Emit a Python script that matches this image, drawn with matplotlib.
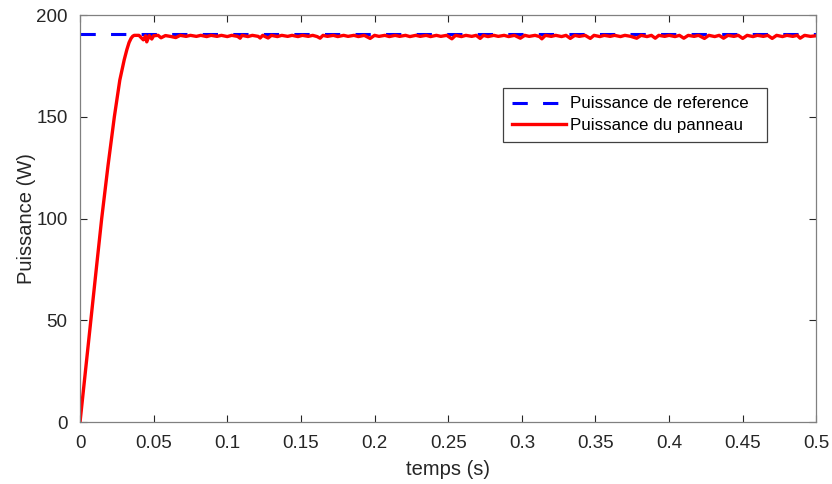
import numpy as np
import matplotlib
matplotlib.use("Agg")
import matplotlib.pyplot as plt
from matplotlib.ticker import FuncFormatter

plt.rcParams['font.family'] = ['Liberation Sans', 'DejaVu Sans']

# --- data ----------------------------------------------------------------
p_ref = 190.5
t_ref = [0.0, 0.5]

# rise of the panel power (t in s, P in W)
t_rise = [0.0, 0.0073, 0.0110, 0.0147, 0.0190, 0.0233, 0.0270, 0.0300, 0.0318,
          0.0333, 0.0347, 0.0358, 0.0368, 0.0385]
p_rise = [0.0, 50.0, 75.0, 100.0, 126.0, 150.0, 168.0, 178.0, 183.0,
          186.5, 188.6, 189.6, 190.0, 190.0]

# small ripple after convergence
t_rip = [0.040, 0.043, 0.0445, 0.0453, 0.047, 0.0487, 0.050, 0.053, 0.055, 0.058,
         0.062, 0.065, 0.068, 0.072, 0.075, 0.079, 0.082, 0.086, 0.089, 0.093,
         0.096, 0.100, 0.103, 0.107, 0.1087, 0.110, 0.114, 0.117, 0.121, 0.1223,
         0.124, 0.1277, 0.130, 0.134, 0.137, 0.141, 0.144, 0.148, 0.151, 0.155,
         0.158, 0.161, 0.163, 0.165, 0.168, 0.172, 0.175, 0.179, 0.182, 0.186,
         0.189, 0.193, 0.197, 0.200, 0.203, 0.207, 0.210, 0.214, 0.217, 0.221,
         0.224, 0.228, 0.231, 0.235, 0.238, 0.242, 0.245, 0.249, 0.2525, 0.255,
         0.259, 0.262, 0.266, 0.269, 0.2717, 0.274, 0.277, 0.281, 0.284, 0.288,
         0.291, 0.295, 0.299, 0.302, 0.305, 0.309, 0.312, 0.3136, 0.316, 0.320,
         0.323, 0.327, 0.330, 0.3329, 0.336, 0.339, 0.343, 0.3465, 0.349, 0.353,
         0.356, 0.360, 0.363, 0.367, 0.370, 0.374, 0.378, 0.381, 0.385, 0.388,
         0.3906, 0.393, 0.397, 0.400, 0.404, 0.407, 0.410, 0.413, 0.417, 0.420,
         0.424, 0.427, 0.431, 0.434, 0.437, 0.440, 0.444, 0.447, 0.450, 0.453,
         0.457, 0.460, 0.464, 0.467, 0.470, 0.473, 0.477, 0.480, 0.484, 0.487,
         0.489, 0.492, 0.496, 0.500]
p_rip = [190.0, 187.8, 189.8, 186.8, 189.9, 188.2, 189.8, 190.0, 188.8, 189.9,
         189.4, 188.9, 190.0, 189.5, 190.0, 189.5, 190.0, 189.4, 190.0, 189.5,
         190.0, 189.4, 190.0, 189.5, 188.6, 190.0, 189.4, 190.0, 189.5, 188.7,
         190.0, 188.7, 190.0, 189.4, 190.0, 189.5, 190.0, 189.4, 190.0, 189.5,
         190.0, 189.4, 188.6, 190.0, 189.5, 190.0, 189.4, 190.0, 189.5, 190.0,
         189.4, 190.0, 188.5, 190.0, 189.5, 190.0, 189.4, 190.0, 189.5, 190.0,
         189.4, 190.0, 189.5, 190.0, 189.4, 190.0, 189.5, 190.0, 188.3, 190.0,
         189.4, 190.0, 189.5, 190.0, 188.5, 190.0, 189.4, 190.0, 189.5, 190.0,
         189.4, 190.0, 188.6, 190.0, 189.5, 190.0, 189.4, 188.3, 190.0, 189.5,
         190.0, 189.4, 190.0, 188.5, 190.0, 189.5, 190.0, 188.5, 190.0, 189.4,
         190.0, 189.5, 190.0, 189.4, 190.0, 189.5, 188.6, 190.0, 189.4, 190.0,
         188.6, 190.0, 189.5, 190.0, 189.4, 190.0, 188.6, 190.0, 189.5, 190.0,
         188.5, 190.0, 189.4, 190.0, 188.6, 190.0, 189.5, 190.0, 188.5, 190.0,
         189.4, 190.0, 189.5, 190.0, 188.5, 190.0, 189.4, 190.0, 189.5, 190.0,
         188.6, 190.0, 189.5, 189.8]

x_ticks = [0, 0.05, 0.1, 0.15, 0.2, 0.25, 0.3, 0.35, 0.4, 0.45, 0.5]
y_ticks = [0, 50, 100, 150, 200]

t_pan = t_rise + t_rip
p_pan = p_rise + p_rip

# --- figure ---------------------------------------------------------------
fig = plt.figure(figsize=(8.32, 4.84), dpi=100)
ax = fig.add_axes([0.0962, 0.128, 0.885, 0.841])

ax.plot(t_ref, [p_ref, p_ref], color='#0000ff', lw=2.2, ls=(0, (5, 5)),
        label='Puissance de reference  ')
ax.plot(t_pan, p_pan, color='#ff0000', lw=2.4, label='Puissance du panneau')

ax.set_xlim(0, 0.5)
ax.set_ylim(0, 200)
ax.set_xticks(x_ticks)
ax.set_yticks(y_ticks)
ax.xaxis.set_major_formatter(FuncFormatter(lambda v, pos: ('%g' % round(v, 3))))

ax.tick_params(direction='in', top=True, right=True, length=5, width=0.8,
               colors='#262626', labelsize=13.5)
ax.tick_params(axis='x', pad=9)
ax.tick_params(axis='y', pad=9)
for s in ax.spines.values():
    s.set_color('#808080')
    s.set_linewidth(0.9)

ax.set_xlabel('temps (s)', fontsize=14.5, color='#262626', labelpad=6)
ax.set_ylabel('Puissance (W)', fontsize=14.5, color='#262626', labelpad=0)

leg = ax.legend(loc='upper left', bbox_to_anchor=(0.5747, 0.8206), fontsize=12.2,
                handlelength=3.2, handletextpad=0.25, borderpad=0.5,
                labelspacing=0.4, borderaxespad=0, fancybox=False, framealpha=1,
                edgecolor='#404040')
leg.get_frame().set_linewidth(0.9)

fig.savefig('out.png', dpi=100)
